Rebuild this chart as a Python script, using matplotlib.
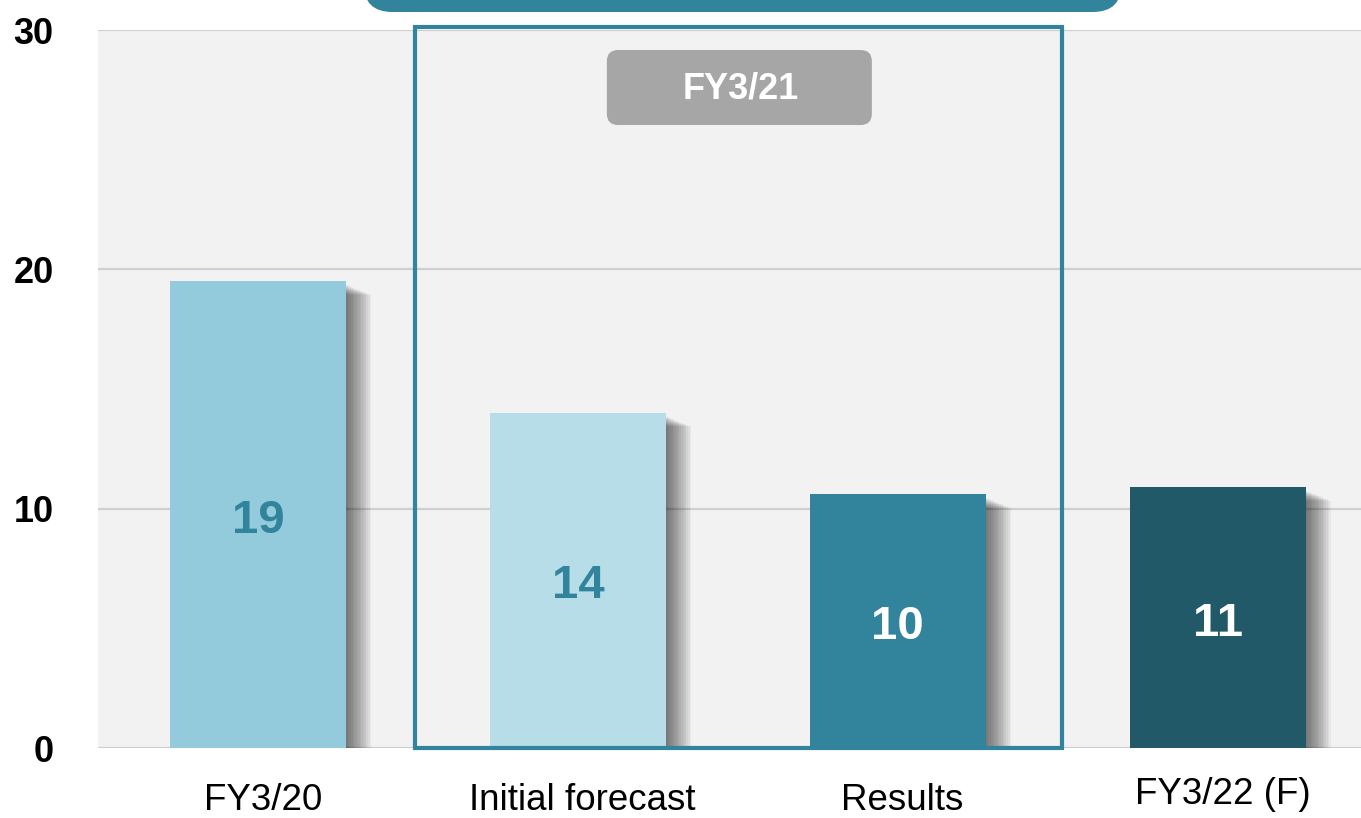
"""Bar chart: FY3/20 actual, FY3/21 initial forecast vs results, FY3/22 forecast."""

import matplotlib

matplotlib.use("Agg")
import matplotlib.pyplot as plt
from matplotlib.patches import FancyBboxPatch, Rectangle

plt.rcParams["font.family"] = ["Liberation Sans", "DejaVu Sans"]

categories = ["FY3/20", "Initial forecast", "Results", "FY3/22 (F)"]
values = [19.5, 14.0, 10.6, 10.9]
value_labels = ["19", "14", "10", "11"]
group_title = "FY3/21"
y_ticks = [0, 10, 20, 30]

bar_colors = ["#93cbdc", "#b7dde8", "#31849b", "#215968"]
label_colors = ["#31849b", "#31849b", "white", "white"]
teal = "#31849b"

# vertical drop (points) of each category label baseline below the axis
label_drop = [44.5, 44.5, 44.5, 40.3]

W, H, DPI = 1361, 818, 100
fig = plt.figure(figsize=(W / DPI, H / DPI), dpi=DPI)
ax = fig.add_axes([98 / W, 1 - 748 / H, 1 - 98 / W, (748 - 30) / H])
ax.set_facecolor("#f2f2f2")

x = list(range(len(categories)))
bar_w = 0.55
ax.set_xlim(-0.5, 3.448)
ax.set_ylim(0, 30)

px_x = 1 / 320.0   # data units per pixel, x
px_y = 30 / 718.0  # data units per pixel, y

# soft drop shadows on the right side of each bar
for xi, v in zip(x, values):
    right = xi + bar_w / 2
    for k in range(1, 16):
        ax.add_patch(Rectangle((right - 2 * px_x, 0), (2 + k * 1.7) * px_x,
                               v - (3 + k * 0.7) * px_y,
                               facecolor="black", alpha=0.045, lw=0, zorder=1.5))

ax.bar(x, values, width=bar_w, color=bar_colors, zorder=2)

for xi, v, lab, c in zip(x, values, value_labels, label_colors):
    ax.text(xi, v / 2 - 6 * px_y, lab, ha="center", va="center", fontsize=34,
            fontweight="bold", color=c, zorder=3)

ax.set_yticks(y_ticks)
ax.set_yticklabels([str(t) for t in y_ticks], fontsize=26, fontweight="bold")
ax.tick_params(axis="y", length=0, pad=32)
ax.set_xticks(x)
ax.set_xticklabels([])
ax.tick_params(axis="x", length=0)
ax.grid(axis="y", color="#cfcfcf", lw=1.6, zorder=1)
ax.set_axisbelow(True)
for s in ax.spines.values():
    s.set_visible(False)

for xi, lab, d in zip(x, categories, label_drop):
    ax.annotate(lab, xy=(xi + 0.015, 0), xytext=(0, -d), textcoords="offset points",
                ha="center", va="baseline", fontsize=26.5, annotation_clip=False)

# frame around the FY3/21 pair
bx0, bx1 = 1 - 0.51, 2 + 0.5125
ax.add_patch(Rectangle((bx0, 0), bx1 - bx0, 30 + 3 * px_y, fill=False,
                       edgecolor=teal, lw=3, zorder=4, clip_on=False))

# group header tag
aspect = px_y / px_x
ax.add_patch(FancyBboxPatch((1.0906, 26.03), 1.919 - 1.0906, 29.164 - 26.03,
                            boxstyle="round,pad=0,rounding_size=0.035",
                            mutation_aspect=aspect, facecolor="#a6a6a6",
                            edgecolor="none", zorder=4))
ax.text(1.51, 27.55, group_title, ha="center", va="center", fontsize=26,
        fontweight="bold", color="white", zorder=5)

# partially visible banner at the very top
ax.add_patch(FancyBboxPatch((0.33, 30 + 18 * px_y), 2.70 - 0.33, 3.0,
                            boxstyle="round,pad=0,rounding_size=0.09",
                            mutation_aspect=aspect, facecolor=teal,
                            edgecolor="none", zorder=4, clip_on=False))

fig.savefig("out.png", dpi=DPI)
